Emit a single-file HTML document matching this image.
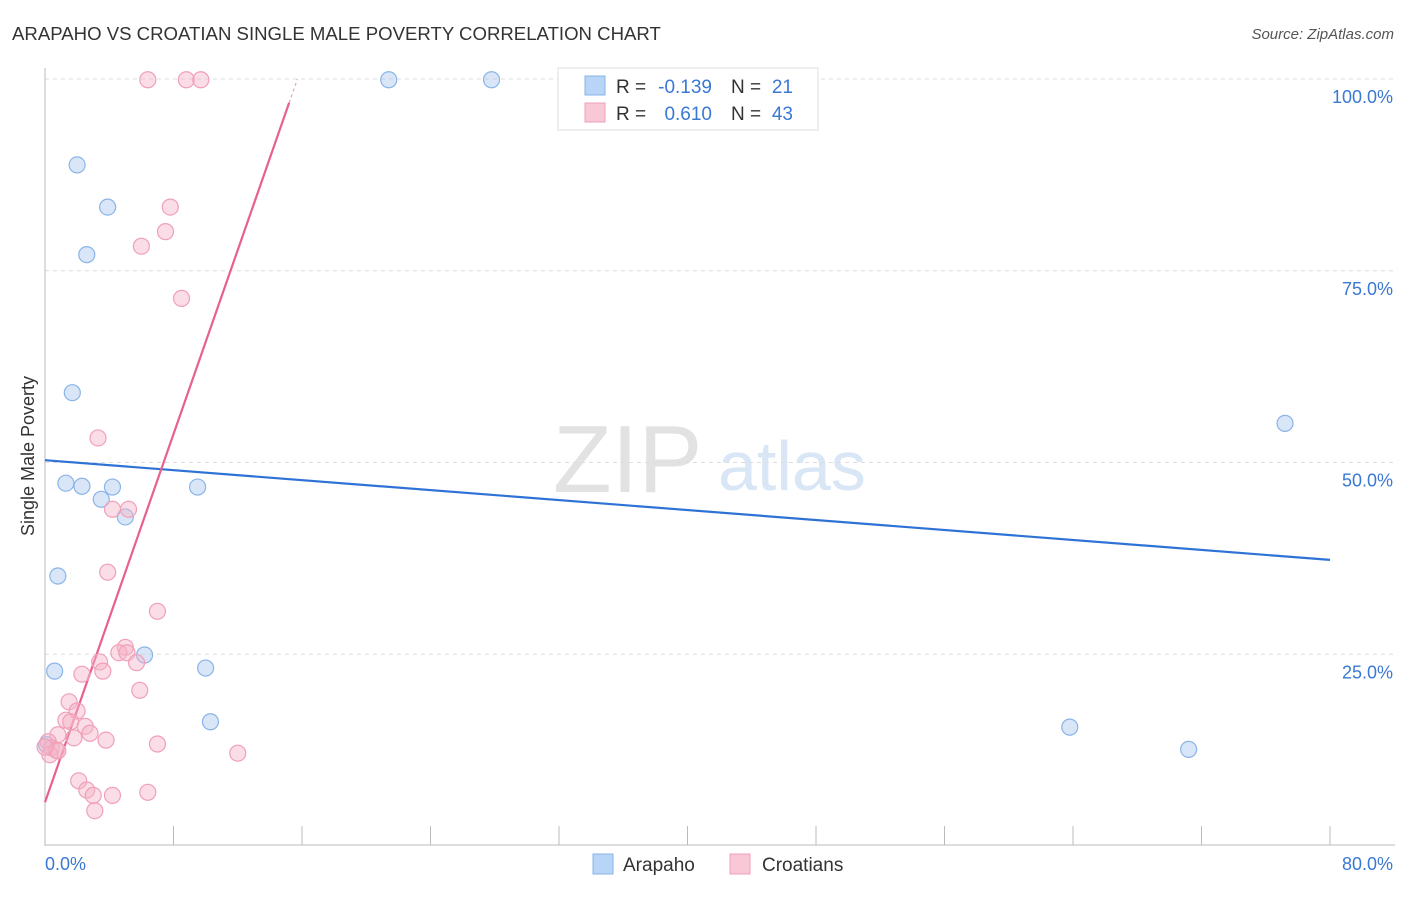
<!DOCTYPE html>
<html><head><meta charset="utf-8"><style>
body{margin:0;background:#fff;font-family:"Liberation Sans",sans-serif;}
svg text{font-family:"Liberation Sans",sans-serif;}
</style></head><body>
<svg id="c" width="1406" height="892" xmlns="http://www.w3.org/2000/svg">
<text x="12" y="40" font-size="18.6" fill="#333">ARAPAHO VS CROATIAN SINGLE MALE POVERTY CORRELATION CHART</text>
<text x="1394" y="39" font-size="15" fill="#555" font-style="italic" text-anchor="end">Source: ZipAtlas.com</text>
<g>
<text x="553" y="492" font-size="96" fill="#e2e2e2" font-family="Liberation Serif,serif">ZIP</text>
<text x="718" y="490" font-size="70" fill="#d8e6f6">atlas</text>
</g>
<g id="grid"></g>
<g id="axes"></g>
<g id="trend"></g>
<g id="pts"></g>
<text transform="translate(34,456) rotate(-90)" font-size="18" fill="#333" text-anchor="middle">Single Male Poverty</text>
<g>
<rect x="558" y="68" width="260" height="62" fill="#fff" stroke="#ddd"/>
<rect x="585" y="76" width="20" height="19" fill="#b8d4f6" stroke="#8ab4e8"/>
<rect x="585" y="103" width="20" height="19" fill="#f9c8d6" stroke="#f0a0b8"/>
<text x="616" y="93" font-size="19" fill="#333">R =</text>
<text x="712" y="93" font-size="19" fill="#3a78d4" text-anchor="end">-0.139</text>
<text x="731" y="93" font-size="19" fill="#333">N =</text>
<text x="793" y="93" font-size="19" fill="#3a78d4" text-anchor="end">21</text>
<text x="616" y="120" font-size="19" fill="#333">R =</text>
<text x="712" y="120" font-size="19" fill="#3a78d4" text-anchor="end">0.610</text>
<text x="731" y="120" font-size="19" fill="#333">N =</text>
<text x="793" y="120" font-size="19" fill="#3a78d4" text-anchor="end">43</text>
</g>
<g>
<rect x="593" y="854" width="20" height="20" fill="#b8d4f6" stroke="#8ab4e8"/>
<text x="623" y="871" font-size="19" fill="#333">Arapaho</text>
<rect x="730" y="854" width="20" height="20" fill="#f9c8d6" stroke="#f0a0b8"/>
<text x="762" y="871" font-size="19" fill="#333">Croatians</text>
</g>
</svg>
<script>
const yTicks=[25,50,75,100];
const yTickLabels=["25.0%","50.0%","75.0%","100.0%"];
const xTickLabels=["0.0%","80.0%"];
const blueX=[21.4,27.8,2.0,3.9,2.6,1.7,77.2,1.3,2.3,4.2,3.5,9.5,5.0,0.8,6.2,0.6,10.0,10.3,63.8,71.2,0.1];
const blueY=[99.9,99.9,88.8,83.3,77.1,59.1,55.1,47.3,46.9,46.8,45.2,46.8,42.9,35.2,24.9,22.8,23.2,16.2,15.5,12.6,13.2];
const pinkX=[6.4,8.8,9.7,7.8,7.5,6.0,8.5,3.3,4.2,5.2,3.9,7.0,5.0,4.6,5.1,5.7,3.4,3.6,2.3,5.9,1.5,2.0,1.3,1.6,2.5,0.8,2.8,3.8,1.8,7.0,12.0,0.2,0.4,0.7,0.3,0.8,2.1,2.6,3.0,4.2,6.4,3.1,0.0];
const pinkY=[99.9,99.9,99.9,83.3,80.1,78.2,71.4,53.2,43.9,43.9,35.7,30.6,25.9,25.2,25.2,23.9,24.0,22.8,22.4,20.3,18.8,17.6,16.4,16.2,15.6,14.5,14.7,13.8,14.1,13.3,12.1,13.6,12.8,12.5,11.9,12.4,8.5,7.3,6.6,6.6,7.0,4.6,12.9];
const blueTrend=[50.3,37.3]; // y at x=0 and x=80
const pinkTrend=[5.7,6.0];   // intercept, slope
const NS="http://www.w3.org/2000/svg";
const X=v=>45+v*16.0625, Y=v=>846-v*7.67;
function mk(t,a,p){const e=document.createElementNS(NS,t);for(const k in a)e.setAttribute(k,a[k]);p.appendChild(e);return e;}
const g=document.getElementById('grid'),ax=document.getElementById('axes'),tr=document.getElementById('trend'),pts=document.getElementById('pts');
yTicks.forEach((t,i)=>{
 const l=mk('line',{x1:45,x2:1395,y1:Y(t),y2:Y(t),stroke:'#ddd','stroke-dasharray':'4,4'},g);
 
 
 const tx=mk('text',{x:1393,y:Y(t)+24,'font-size':18,fill:'#3a78d4','text-anchor':'end'},g);
 tx.textContent=yTickLabels[i];
 
 
});
mk('line',{x1:45,x2:45,y1:68,y2:846,stroke:'#bbb'},ax);
const xa=mk('line',{x1:45,x2:1395,y1:845,y2:845,stroke:'#bbb'},ax);


for(let i=0;i<=10;i++){const t=mk('line',{x1:X(i*8),x2:X(i*8),y1:826,y2:845,stroke:'#bbb'},ax);
 
 }
[[0,'start',45],[80,'end',1393]].forEach((d,i)=>{const t=mk('text',{x:d[2],y:870,'font-size':18,fill:'#3a78d4','text-anchor':d[1]},ax);t.textContent=xTickLabels[i];
 
 });
function dot(x,y,f,s,n){const c=mk('circle',{cx:X(x),cy:Y(y),r:8,fill:f,stroke:s,'stroke-width':1.2},pts);
 
 }
blueX.forEach((x,i)=>dot(x,blueY[i],'rgba(170,200,240,0.45)','#8ab4e8','arapaho-point'));
pinkX.forEach((x,i)=>dot(x,pinkY[i],'rgba(245,180,200,0.45)','#f0a0b8','croatians-point'));
const bl=mk('line',{x1:X(0),y1:Y(blueTrend[0]),x2:X(80),y2:Y(blueTrend[1]),stroke:'#2f72d6','stroke-width':2.2},tr);


const xe=(96.9-pinkTrend[0])/pinkTrend[1], xe2=(100-pinkTrend[0])/pinkTrend[1];
const pl=mk('line',{x1:X(0),y1:Y(pinkTrend[0]),x2:X(xe),y2:Y(pinkTrend[0]+pinkTrend[1]*xe),stroke:'#e8608e','stroke-width':2.2},tr);


const pd=mk('line',{x1:X(xe),y1:Y(pinkTrend[0]+pinkTrend[1]*xe),x2:X(xe2),y2:Y(100),stroke:'#e8a0b8','stroke-width':1.2,'stroke-dasharray':'3,3'},tr);


</script>
</body></html>
